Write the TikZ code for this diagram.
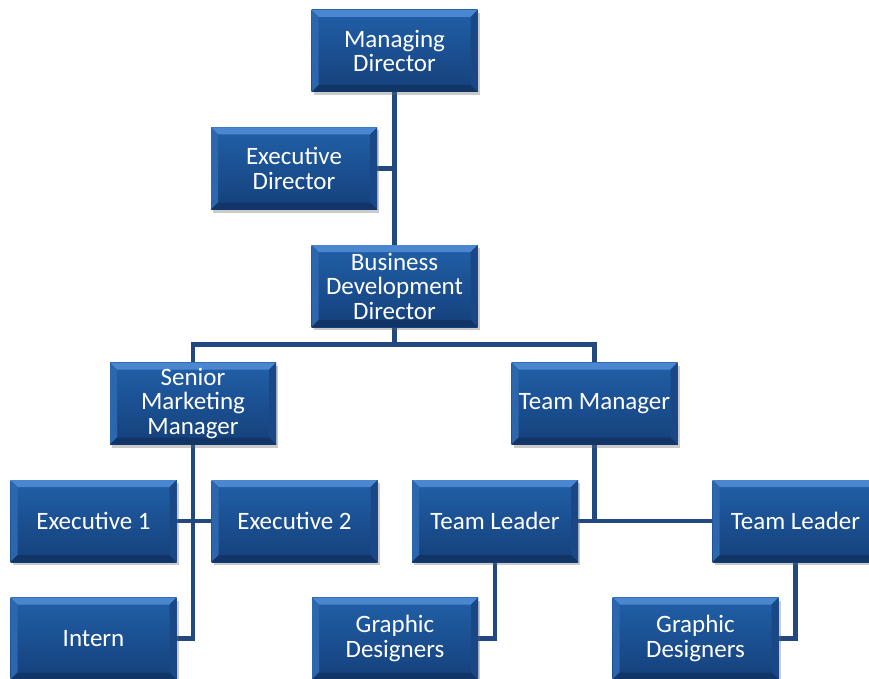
\documentclass[tikz,border=0pt]{standalone}
\usepackage{fontspec}
\setmainfont{Carlito}
\usetikzlibrary{calc,shadows,backgrounds}
\definecolor{facetop}{HTML}{2160A8}
\definecolor{facebot}{HTML}{15407B}
\definecolor{bevtop}{HTML}{4A87D0}
\definecolor{bevleft}{HTML}{2C66AD}
\definecolor{bevright}{HTML}{1A4887}
\definecolor{bevbot}{HTML}{113566}
\definecolor{linkcol}{HTML}{21497F}
\tikzset{
  orgbox/.style={minimum width=166pt, minimum height=82pt, inner sep=0pt,
    text=white, align=center, font=\fontsize{25}{24.5}\selectfont,
    drop shadow={shadow xshift=2pt, shadow yshift=-3pt, opacity=0.35, fill=black!60},
    fill=facebot,
    path picture={
      \coordinate (SW) at (path picture bounding box.south west);
      \coordinate (NE) at (path picture bounding box.north east);
      \coordinate (SE) at (SW -| NE);
      \coordinate (NW) at (NE -| SW);
      \coordinate (iSW) at ($(SW)+(7pt,7pt)$);
      \coordinate (iNE) at ($(NE)+(-7pt,-7pt)$);
      \coordinate (iSE) at (iSW -| iNE);
      \coordinate (iNW) at (iNE -| iSW);
      \fill[top color=facetop, bottom color=facebot] (SW) rectangle (NE);
      \fill[bevtop] (NW) -- (NE) -- (iNE) -- (iNW) -- cycle;
      \fill[bevleft] (NW) -- (iNW) -- (iSW) -- (SW) -- cycle;
      \fill[bevright] (NE) -- (SE) -- (iSE) -- (iNE) -- cycle;
      \fill[bevbot] (SW) -- (iSW) -- (iSE) -- (SE) -- cycle;
    }},
  link/.style={draw=linkcol, line width=4.5pt}
}
\begin{document}
\begin{tikzpicture}[x=1pt,y=-1pt]
\useasboundingbox (0,0) rectangle (869,679);
\node[orgbox] (MD) at (394.5,51) {Managing\\Director};
\node[orgbox] (ED) at (294,168.5) {Executive\\Director};
\node[orgbox] (BDD) at (394.5,286) {Business\\Development\\Director};
\node[orgbox] (SMM) at (193,403.5) {Senior\\Marketing\\Manager};
\node[orgbox] (TM) at (594.5,403.5) {Team Manager};
\node[orgbox] (E1) at (93.5,521) {Executive 1};
\node[orgbox] (E2) at (294.5,521) {Executive 2};
\node[orgbox] (IN) at (93.5,638.5) {Intern};
\node[orgbox] (TL1) at (495,521) {Team Leader};
\node[orgbox] (TL2) at (795.5,521) {Team Leader};
\node[orgbox] (GD1) at (395,638.5) {Graphic\\Designers};
\node[orgbox] (GD2) at (695.5,638.5) {Graphic\\Designers};
\coordinate (bus) at ($(BDD.south)+(0,-17.5pt)$);
\begin{scope}[on background layer]
\draw[link] (MD.south) -- (BDD.north);
\draw[link] (ED.east) -- (ED.east -| MD.south);
\draw[link] (BDD.south) -- (bus);
\draw[link] (SMM.north) |- (bus) -| (TM.north);
\draw[link] (SMM.south) |- (IN.east);
\draw[link] (E1.east) -- (E2.west);
\draw[link] (TM.south) -- (TM.south |- TL1.east);
\draw[link] (TL1.east) -- (TL2.west);
\draw[link] (TL1.south) |- (GD1.east);
\draw[link] (TL2.south) |- (GD2.east);
\end{scope}
\end{tikzpicture}
\end{document}
